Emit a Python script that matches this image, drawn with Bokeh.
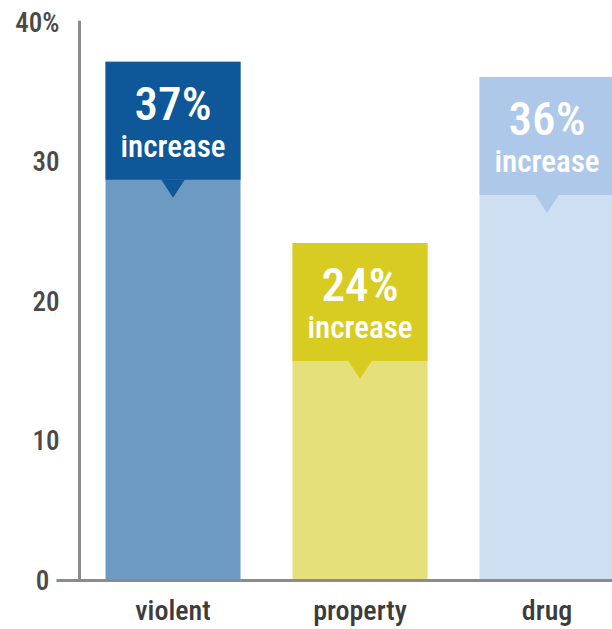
from bokeh.plotting import figure
from bokeh.models import ColumnDataSource, Range1d, FixedTicker, Span
from bokeh.core.properties import value
from bokeh.embed import file_html
from bokeh.resources import INLINE

# ---- data ----
categories = ["violent", "property", "drug"]
increase = [37.2, 24.2, 36.1]
pct_labels = ["37%", "24%", "36%"]
sub_labels = ["increase", "increase", "increase"]
dark_colors = ["#0e5798", "#d8cc22", "#adc8e8"]
light_colors = ["#6c9ac3", "#e6e07b", "#cddff0"]
y_ticks = [0, 10, 20, 30, 40]
y_tick_labels = ["0\u2009\u2009", "10", "20", "30", "40%"]

# ---- styling constants ----
FONT = "Roboto Condensed Medium, Roboto Condensed"
FRAME_H = 560
Y_END = 40.15
PX = FRAME_H / Y_END            # pixels per unit
BOX_H = 118 / PX                # label box height (data units)
TRI_H = 18 / PX
BAR_W = 0.722
TRI_W = 0.125
AXIS_COLOR = "#8b8b8f"

xs = [i + 1 for i in range(len(categories))]
box_bottom = [v - BOX_H for v in increase]
tri_x = [[x - TRI_W / 2, x + TRI_W / 2, x] for x in xs]
tri_y = [[b, b, b - TRI_H] for b in box_bottom]

src = ColumnDataSource(dict(x=xs, top=increase, box_bottom=box_bottom,
                            dark=dark_colors, light=light_colors,
                            pct=pct_labels, sub=sub_labels))
tri_src = ColumnDataSource(dict(xs=tri_x, ys=tri_y, dark=dark_colors))

p = figure(width=612, height=629, output_backend="svg", toolbar_location=None,
           x_range=Range1d(0.377, 3.350), y_range=Range1d(0, Y_END),
           min_border_left=56, min_border_right=0, min_border_top=20,
           min_border_bottom=49)
p.outline_line_color = None
p.xgrid.visible = False
p.ygrid.visible = False
p.background_fill_color = "white"
p.border_fill_color = "white"

# bars
p.vbar(x="x", top="top", bottom=0, width=BAR_W, fill_color="light",
       line_color=None, source=src)
p.vbar(x="x", top="top", bottom="box_bottom", width=BAR_W, fill_color="dark",
       line_color=None, source=src)
p.patches(xs="xs", ys="ys", fill_color="dark", line_color=None, source=tri_src)

# labels inside boxes
p.text(x="x", y="top", text="pct", source=src, text_font=value(FONT),
       text_font_size="47px", text_color="white", text_align="center",
       text_baseline="alphabetic", y_offset=42)
p.text(x="x", y="top", text="sub", source=src, text_font=value(FONT),
       text_font_size="31px", text_color="white", text_align="center",
       text_baseline="alphabetic", y_offset=85)

# vertical axis line
p.add_layout(Span(location=0.5, dimension="height", line_color=AXIS_COLOR,
                  line_width=3))

# x axis
xa = p.xaxis[0]
xa.ticker = FixedTicker(ticks=xs)
xa.major_label_overrides = {x: c for x, c in zip(xs, categories)}
xa.axis_line_color = AXIS_COLOR
xa.axis_line_width = 3
xa.major_tick_line_color = None
xa.minor_tick_line_color = None
xa.major_tick_out = 0
xa.major_tick_in = 0
xa.major_label_standoff = 13
xa.major_label_text_font = FONT
xa.major_label_text_font_size = "28px"
xa.major_label_text_color = "#3c3c3c"

# y axis
ya = p.yaxis[0]
ya.ticker = FixedTicker(ticks=y_ticks)
ya.major_label_overrides = {t: l for t, l in zip(y_ticks, y_tick_labels)}
ya.axis_line_color = None
ya.major_tick_line_color = None
ya.minor_tick_line_color = None
ya.major_tick_out = 0
ya.major_tick_in = 0
ya.major_label_standoff = -3
ya.major_label_text_font = FONT
ya.major_label_text_font_size = "27px"
ya.major_label_text_color = "#4a4a4a"

open("out.html", "w").write(file_html(p, INLINE))
